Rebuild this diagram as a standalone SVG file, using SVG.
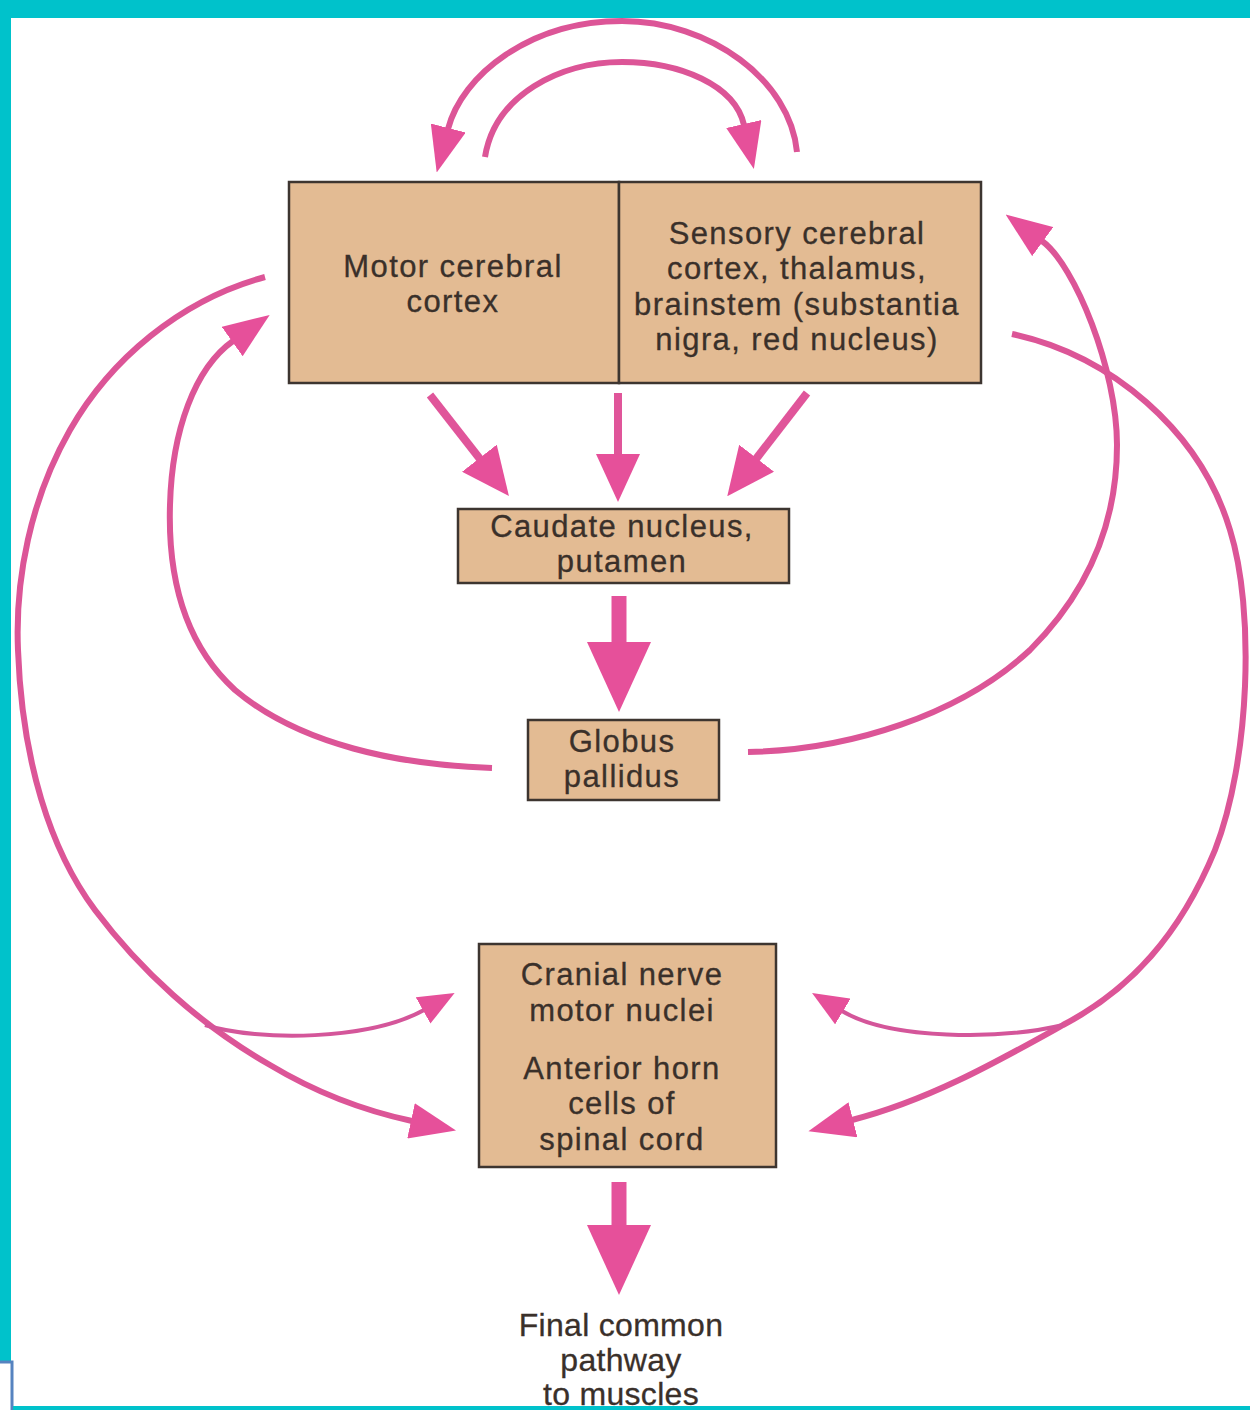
<svg xmlns="http://www.w3.org/2000/svg" width="1250" height="1410" viewBox="0 0 1250 1410">
  <style>
    .box { fill: #E3BB93; stroke: #3d3530; stroke-width: 2.5; }
    .lbl { font-family: "Liberation Sans", Arial, sans-serif; font-size: 31px; letter-spacing: 1.4px; fill: #3a302a; stroke: #3a302a; stroke-width: 0.3; text-anchor: middle; }
    .lbl2 { font-family: "Liberation Sans", Arial, sans-serif; font-size: 32px; letter-spacing: 0.3px; fill: #3a302a; stroke: #3a302a; stroke-width: 0.3; text-anchor: middle; }
    .curve { fill: none; stroke: #DC5597; stroke-width: 6; stroke-linecap: butt; }
    .thin { fill: none; stroke: #D4569A; stroke-width: 4; }
    .stem { fill: none; stroke: #E0559A; stroke-width: 8; }
    .fat { fill: none; stroke: #E4529B; stroke-width: 15; }
    .head { fill: #E6509A; }
  </style>
  <defs>
    <marker id="headA" viewBox="0 0 46 36" refX="1" refY="18" markerWidth="46" markerHeight="36" markerUnits="userSpaceOnUse" orient="auto">
      <path class="head" d="M0,0 L46,18 L0,36 Z"/>
    </marker>
    <marker id="headT" viewBox="0 0 36 30" refX="1" refY="15" markerWidth="36" markerHeight="30" markerUnits="userSpaceOnUse" orient="auto">
      <path class="head" d="M0,0 L36,15 L0,30 Z"/>
    </marker>
    <marker id="headD" viewBox="0 0 48 44" refX="1" refY="22" markerWidth="48" markerHeight="44" markerUnits="userSpaceOnUse" orient="auto">
      <path class="head" d="M0,0 L48,22 L0,44 Z"/>
    </marker>
    <marker id="headB" viewBox="0 0 70 64" refX="1" refY="32" markerWidth="70" markerHeight="64" markerUnits="userSpaceOnUse" orient="auto">
      <path class="head" d="M0,0 L70,32 L0,64 Z"/>
    </marker>
  </defs>

  <!-- page background and frame -->
  <rect x="0" y="0" width="1250" height="1410" fill="#ffffff"/>
  <rect x="0" y="0" width="1250" height="18" fill="#00C2CB"/>
  <rect x="0" y="0" width="11" height="1362" fill="#00C2CB"/>
  <path d="M0 1362 H12 V1410" fill="none" stroke="#5683C0" stroke-width="3"/>
  <rect x="13" y="1406" width="1237" height="4" fill="#00C2CB"/>

  <!-- connectors -->
  <g id="connectors">
    <!-- loop between the two cortex halves -->
    <path class="curve" d="M797 152 C790 80, 710 21, 622 21 C530 21, 462 75, 448 129" marker-end="url(#headA)"/>
    <path class="curve" d="M485 157 C495 95, 560 62, 622 62 C680 62, 735 85, 744 125" marker-end="url(#headA)"/>

    <!-- cortex to striatum -->
    <path class="stem" d="M430 395 L480 459" marker-end="url(#headD)"/>
    <path class="stem" d="M618 393 L618 455" marker-end="url(#headD)"/>
    <path class="stem" d="M807 393 L756 459" marker-end="url(#headD)"/>

    <!-- striatum to globus pallidus -->
    <path class="fat" d="M619 596 V643" marker-end="url(#headB)"/>

    <!-- globus pallidus back to cortex -->
    <path class="curve" d="M492 768 C400 765, 300 745, 235 690 C180 640, 168 570, 170 505 C172 430, 195 368, 233 341" marker-end="url(#headA)"/>
    <path class="curve" d="M748 752 C850 750, 960 715, 1030 650 C1090 590, 1117 520, 1117 445 C1117 370, 1075 265, 1042 241" marker-end="url(#headA)"/>

    <!-- descending pathways -->
    <path class="curve" d="M265 277 C180 300, 110 360, 70 430 C30 500, 15 580, 18 650 C22 760, 50 850, 95 910 C140 970, 200 1025, 270 1065 C320 1095, 370 1112, 412 1121" marker-end="url(#headA)"/>
    <path class="thin" d="M205 1025 C260 1042, 370 1040, 424 1010" marker-end="url(#headT)"/>
    <path class="curve" d="M1012 334 C1110 355, 1200 430, 1230 530 C1255 610, 1250 760, 1215 850 C1180 935, 1130 990, 1063 1025 C1000 1060, 930 1100, 852 1120" marker-end="url(#headA)"/>
    <path class="thin" d="M1063 1025 C1000 1040, 890 1040, 842 1011" marker-end="url(#headT)"/>

    <!-- output to muscles -->
    <path class="fat" d="M619 1182 V1226" marker-end="url(#headB)"/>
  </g>

  <!-- nodes -->
  <g id="motor-cortex">
    <rect class="box" x="289" y="182" width="330" height="201"/>
    <text class="lbl" x="453" y="277">Motor cerebral</text>
    <text class="lbl" x="453" y="312">cortex</text>
  </g>
  <g id="sensory-cortex">
    <rect class="box" x="619" y="182" width="362" height="201"/>
    <text class="lbl" x="797" y="244">Sensory cerebral</text>
    <text class="lbl" x="797" y="279">cortex, thalamus,</text>
    <text class="lbl" x="797" y="315">brainstem (substantia</text>
    <text class="lbl" x="797" y="350">nigra, red nucleus)</text>
  </g>
  <g id="caudate-putamen">
    <rect class="box" x="458" y="509" width="331" height="74"/>
    <text class="lbl" x="622" y="537">Caudate nucleus,</text>
    <text class="lbl" x="622" y="572">putamen</text>
  </g>
  <g id="globus-pallidus">
    <rect class="box" x="528" y="720" width="191" height="80"/>
    <text class="lbl" x="622" y="752">Globus</text>
    <text class="lbl" x="622" y="787">pallidus</text>
  </g>
  <g id="motor-nuclei">
    <rect class="box" x="479" y="944" width="297" height="223"/>
    <text class="lbl" x="622" y="985">Cranial nerve</text>
    <text class="lbl" x="622" y="1021">motor nuclei</text>
    <text class="lbl" x="622" y="1079">Anterior horn</text>
    <text class="lbl" x="622" y="1114">cells of</text>
    <text class="lbl" x="622" y="1150">spinal cord</text>
  </g>
  <g id="final-pathway">
    <text class="lbl2" x="621" y="1336">Final common</text>
    <text class="lbl2" x="621" y="1371">pathway</text>
    <text class="lbl2" x="621" y="1405">to muscles</text>
  </g>
</svg>
